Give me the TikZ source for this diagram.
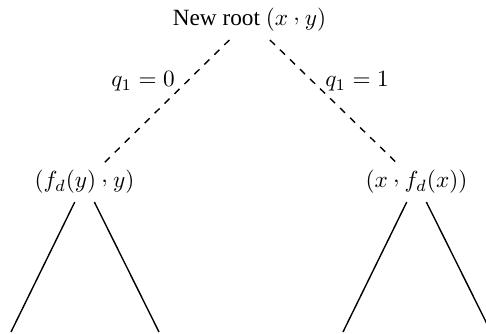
\documentclass[tikz,border=0pt]{standalone}
\usepackage[no-math]{fontspec}
\setmainfont{Liberation Serif}
\newcommand{\rcomma}{\mathbin{\raisebox{0.5ex}{$,$}}}
\tikzset{
  lbl/.style={anchor=base, inner sep=0pt},
  tnode/.style={anchor=base},
  dashedge/.style={dashed, line width=0.6pt},
  solidedge/.style={line width=0.6pt},
}
\begin{document}
\begin{tikzpicture}[x=0.43pt,y=-0.43pt]
\useasboundingbox (0,0) rectangle (486,334);
\clip (0,0) rectangle (486,334);
\node[tnode] (root) at (249.5,26) {New root $(x \rcomma y)$};
\node[tnode] (lc) at (84.5,188) {$(f_d(y) \rcomma y)$};
\node[tnode] (rc) at (416.5,188) {$(x \rcomma f_d(x))$};
\node[lbl] (q0) at (143,87) {$q_1 = 0$};
\node[lbl] (q1) at (357,87) {$q_1 = 1$};
\coordinate (a) at (11,332);
\coordinate (b) at (159,332);
\coordinate (c) at (343,332);
\coordinate (d) at (491,332);
\draw[dashedge] (root) -- (lc);
\draw[dashedge] (root) -- (rc);
\draw[solidedge] (lc) -- (a);
\draw[solidedge] (lc) -- (b);
\draw[solidedge] (rc) -- (c);
\draw[solidedge] (rc) -- (d);
\end{tikzpicture}
\end{document}
